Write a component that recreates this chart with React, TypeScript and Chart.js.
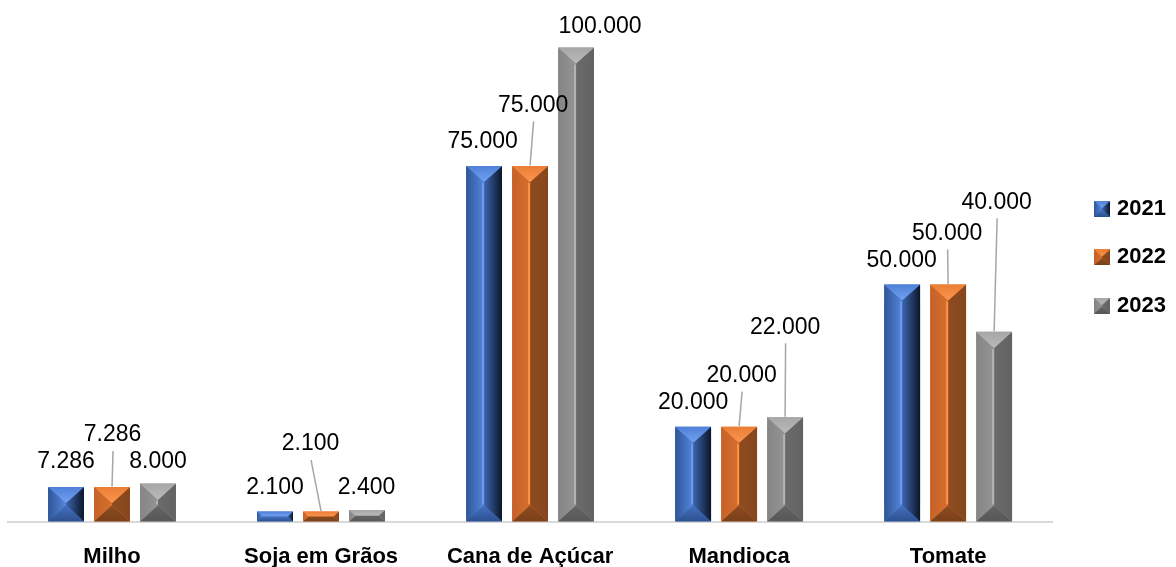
import { useEffect, useRef } from 'react';
import { Chart, registerables } from 'chart.js';

Chart.register(...registerables);

// ---- data ----
const categories = ['Milho', 'Soja em Grãos', 'Cana de Açúcar', 'Mandioca', 'Tomate'];
const seriesNames = ['2021', '2022', '2023'];
const values2021 = [7286, 2100, 75000, 20000, 50000];
const values2022 = [7286, 2100, 75000, 20000, 50000];
const values2023 = [8000, 2400, 100000, 22000, 40000];

// ---- label placement (style: offsets of label centre from bar top centre, px) ----
const labelOffsets2021: [number, number][] = [[0, -27], [0, -26], [-1.5, -26.5], [0, -26], [-0.5, -26]];
const labelOffsets2022: [number, number][] = [[0.5, -54], [-10.5, -69.5], [3, -62.5], [2.5, -53], [-1, -53]];
const labelOffsets2023: [number, number][] = [[0, -24], [-0.5, -24.6], [24, -23], [0, -92], [2.5, -131.5]];
const leaders2021 = [false, false, false, false, false];
const leaders2022 = [true, true, true, true, true];
const leaders2023 = [false, false, false, true, true];

const FONT = "'Liberation Sans', Arial, sans-serif";

type Pal = {
  base: string; top: string; topHi: string; leftEdge: string; leftIn: string;
  rightIn: string; rightEdge: string; bottom: string; bottomIn: string; hl: string;
};
const palettes: Pal[] = [
  { base: '#4472C4', top: '#4f80d8', topHi: '#74a2f2', leftEdge: '#2f5597', leftIn: '#5587dc', rightIn: '#3d65ad', rightEdge: '#0b1629', bottom: '#2d5090', bottomIn: '#4471c0', hl: '#6e9cf0' },
  { base: '#ED7D31', top: '#ea7e35', topHi: '#fd9650', leftEdge: '#c5622a', leftIn: '#d66f2d', rightIn: '#8e4b1f', rightEdge: '#86461d', bottom: '#7a4019', bottomIn: '#8c4b20', hl: '#ff9445' },
  { base: '#A5A5A5', top: '#a6a6a6', topHi: '#bababa', leftEdge: '#858585', leftIn: '#949494', rightIn: '#6b6b6b', rightEdge: '#626262', bottom: '#575757', bottomIn: '#646464', hl: '#b4b4b4' },
];

function fmt(v: number): string {
  return String(v).replace(/\B(?=(\d{3})+(?!\d))/g, '.');
}

function poly(ctx: CanvasRenderingContext2D, pts: number[][], fill: string | CanvasGradient) {
  ctx.beginPath();
  ctx.moveTo(pts[0][0], pts[0][1]);
  for (let i = 1; i < pts.length; i++) ctx.lineTo(pts[i][0], pts[i][1]);
  ctx.closePath();
  ctx.fillStyle = fill;
  ctx.fill();
}

function drawBevel(ctx: CanvasRenderingContext2D, L: number, T: number, R: number, B: number, p: Pal, highlight: boolean) {
  const w = R - L, h = B - T;
  if (w <= 0 || h <= 0) return;
  const cx = (L + R) / 2, cy = (T + B) / 2;
  const k = 0.9;
  let P1: number[], P2: number[], vertical: boolean;
  if (h >= w * k) {
    const d = (w / 2) * k;
    P1 = [cx, T + d]; P2 = [cx, B - d]; vertical = true;
  } else {
    const dx = Math.min(w / 2, h / 2 / k);
    P1 = [L + dx, cy]; P2 = [R - dx, cy]; vertical = false;
  }
  const TL = [L, T], TR = [R, T], BL = [L, B], BR = [R, B];
  const gTop = ctx.createLinearGradient(0, T, 0, Math.max(Math.min(P1[1], P2[1]), T + 1));
  gTop.addColorStop(0, p.top); gTop.addColorStop(1, p.topHi);
  const gLeft = ctx.createLinearGradient(L, 0, Math.max(P1[0], L + 1), 0);
  gLeft.addColorStop(0, p.leftEdge); gLeft.addColorStop(1, p.leftIn);
  const gRight = ctx.createLinearGradient(Math.min(P2[0], R - 1), 0, R, 0);
  gRight.addColorStop(0, p.rightIn); gRight.addColorStop(1, p.rightEdge);
  const gBot = ctx.createLinearGradient(0, B, 0, Math.min(Math.max(P1[1], P2[1]), B - 1));
  gBot.addColorStop(0, p.bottom); gBot.addColorStop(1, p.bottomIn);
  ctx.save();
  if (vertical) {
    poly(ctx, [TL, P1, P2, BL], gLeft);
    poly(ctx, [TR, P1, P2, BR], gRight);
    poly(ctx, [TL, TR, P1], gTop);
    poly(ctx, [BL, BR, P2], gBot);
    if (highlight) {
      ctx.beginPath();
      ctx.moveTo(cx - 1, P1[1] + 1);
      ctx.lineTo(cx - 1, P2[1] - 1);
      ctx.strokeStyle = p.hl;
      ctx.lineWidth = 2;
      ctx.stroke();
    }
  } else {
    poly(ctx, [TL, P1, BL], gLeft);
    poly(ctx, [TR, P2, BR], gRight);
    poly(ctx, [TL, TR, P2, P1], gTop);
    poly(ctx, [BL, BR, P2, P1], gBot);
  }
  ctx.restore();
}

function makeIcon(p: Pal): HTMLCanvasElement {
  const c = document.createElement('canvas');
  c.width = 16; c.height = 16;
  const ctx = c.getContext('2d')!;
  ctx.fillStyle = p.base;
  ctx.fillRect(0, 0, 16, 16);
  drawBevel(ctx, 0, 0, 16, 16, p, false);
  return c;
}

const bevelPlugin = {
  id: 'bevelBarsAndLabels',
  afterDatasetsDraw(chart: any) {
    const ctx: CanvasRenderingContext2D = chart.ctx;
    const offsets = [labelOffsets2021, labelOffsets2022, labelOffsets2023];
    const leaders = [leaders2021, leaders2022, leaders2023];
    // bars
    chart.data.datasets.forEach((ds: any, i: number) => {
      const meta = chart.getDatasetMeta(i);
      meta.data.forEach((bar: any) => {
        const { x, y, base, width } = bar.getProps(['x', 'y', 'base', 'width'], true);
        const top = Math.min(y, base), bottom = Math.max(y, base);
        drawBevel(ctx, x - width / 2, top, x + width / 2, bottom, palettes[i], true);
      });
    });
    // labels
    chart.data.datasets.forEach((ds: any, i: number) => {
      const meta = chart.getDatasetMeta(i);
      meta.data.forEach((bar: any, j: number) => {
        const { x, y } = bar.getProps(['x', 'y'], true);
        const [dx, dy] = offsets[i][j];
        const lx = x + dx, ly = y + dy;
        if (leaders[i][j]) {
          ctx.save();
          ctx.beginPath();
          ctx.moveTo(lx + 0.5, ly + 18);
          ctx.lineTo(x, y - 0.5);
          ctx.strokeStyle = '#a6a6a6';
          ctx.lineWidth = 1.5;
          ctx.stroke();
          ctx.restore();
        }
        ctx.save();
        ctx.font = `23px ${FONT}`;
        ctx.fillStyle = '#000000';
        ctx.textAlign = 'center';
        ctx.textBaseline = 'middle';
        ctx.fillText(fmt(ds.data[j]), lx, ly + 2);
        ctx.restore();
      });
    });
  },
};

export default function App() {
  const ref = useRef<HTMLCanvasElement>(null);
  useEffect(() => {
    document.body.style.margin = '0';
    const icons = palettes.map(makeIcon);
    const seriesValues = [values2021, values2022, values2023];
    const chart = new Chart(ref.current!, {
      type: 'bar',
      data: {
        labels: categories,
        datasets: seriesNames.map((name, i) => ({
          label: name,
          data: seriesValues[i],
          backgroundColor: palettes[i].base,
          borderWidth: 0,
          categoryPercentage: 0.66,
          barPercentage: 0.78,
        })),
      },
      options: {
        responsive: false,
        animation: false,
        devicePixelRatio: 1,
        events: [],
        layout: { padding: { left: 7.5, right: 0, top: 0, bottom: 0 } },
        scales: {
          x: {
            grid: { display: false, drawTicks: false },
            border: { display: true, color: '#d9d9d9', width: 2 },
            ticks: { padding: 22, color: '#000000', font: { family: FONT, size: 22, weight: 'bold' } },
            afterFit: (s: any) => { s.height = 45.5; },
          },
          y: { display: false, min: 0, max: 110000 },
          spacer: {
            type: 'linear',
            position: 'right',
            display: true,
            grid: { display: false, drawTicks: false },
            border: { display: false },
            ticks: { display: false },
            afterFit: (s: any) => { s.width = 19; },
          },
        } as any,
        plugins: {
          tooltip: { enabled: false },
          legend: {
            position: 'right',
            fullSize: false,
            align: 'start',
            title: { display: true, text: '', font: { size: 12 }, padding: { top: 157, bottom: 0 } },
            labels: {
              usePointStyle: true,
              pointStyleWidth: 8,
              boxWidth: 16,
              boxHeight: 16,
              padding: 26.4,
              color: '#000000',
              font: { family: FONT, size: 22, weight: 'bold' },
              generateLabels: (c: any) =>
                c.data.datasets.map((ds: any, i: number) => ({
                  text: ds.label,
                  pointStyle: icons[i],
                  fillStyle: palettes[i].base,
                  strokeStyle: 'rgba(0,0,0,0)',
                  lineWidth: 0,
                  hidden: false,
                  datasetIndex: i,
                  fontColor: '#000000',
                })),
            },
          },
        },
      } as any,
      plugins: [bevelPlugin],
    });
    return () => chart.destroy();
  }, []);
  return (
    <div style={{ position: 'fixed', left: 0, top: 0, width: 1176, height: 567, background: '#ffffff' }}>
      <canvas ref={ref} width={1176} height={567} style={{ width: 1176, height: 567, display: 'block' }} />
    </div>
  );
}
